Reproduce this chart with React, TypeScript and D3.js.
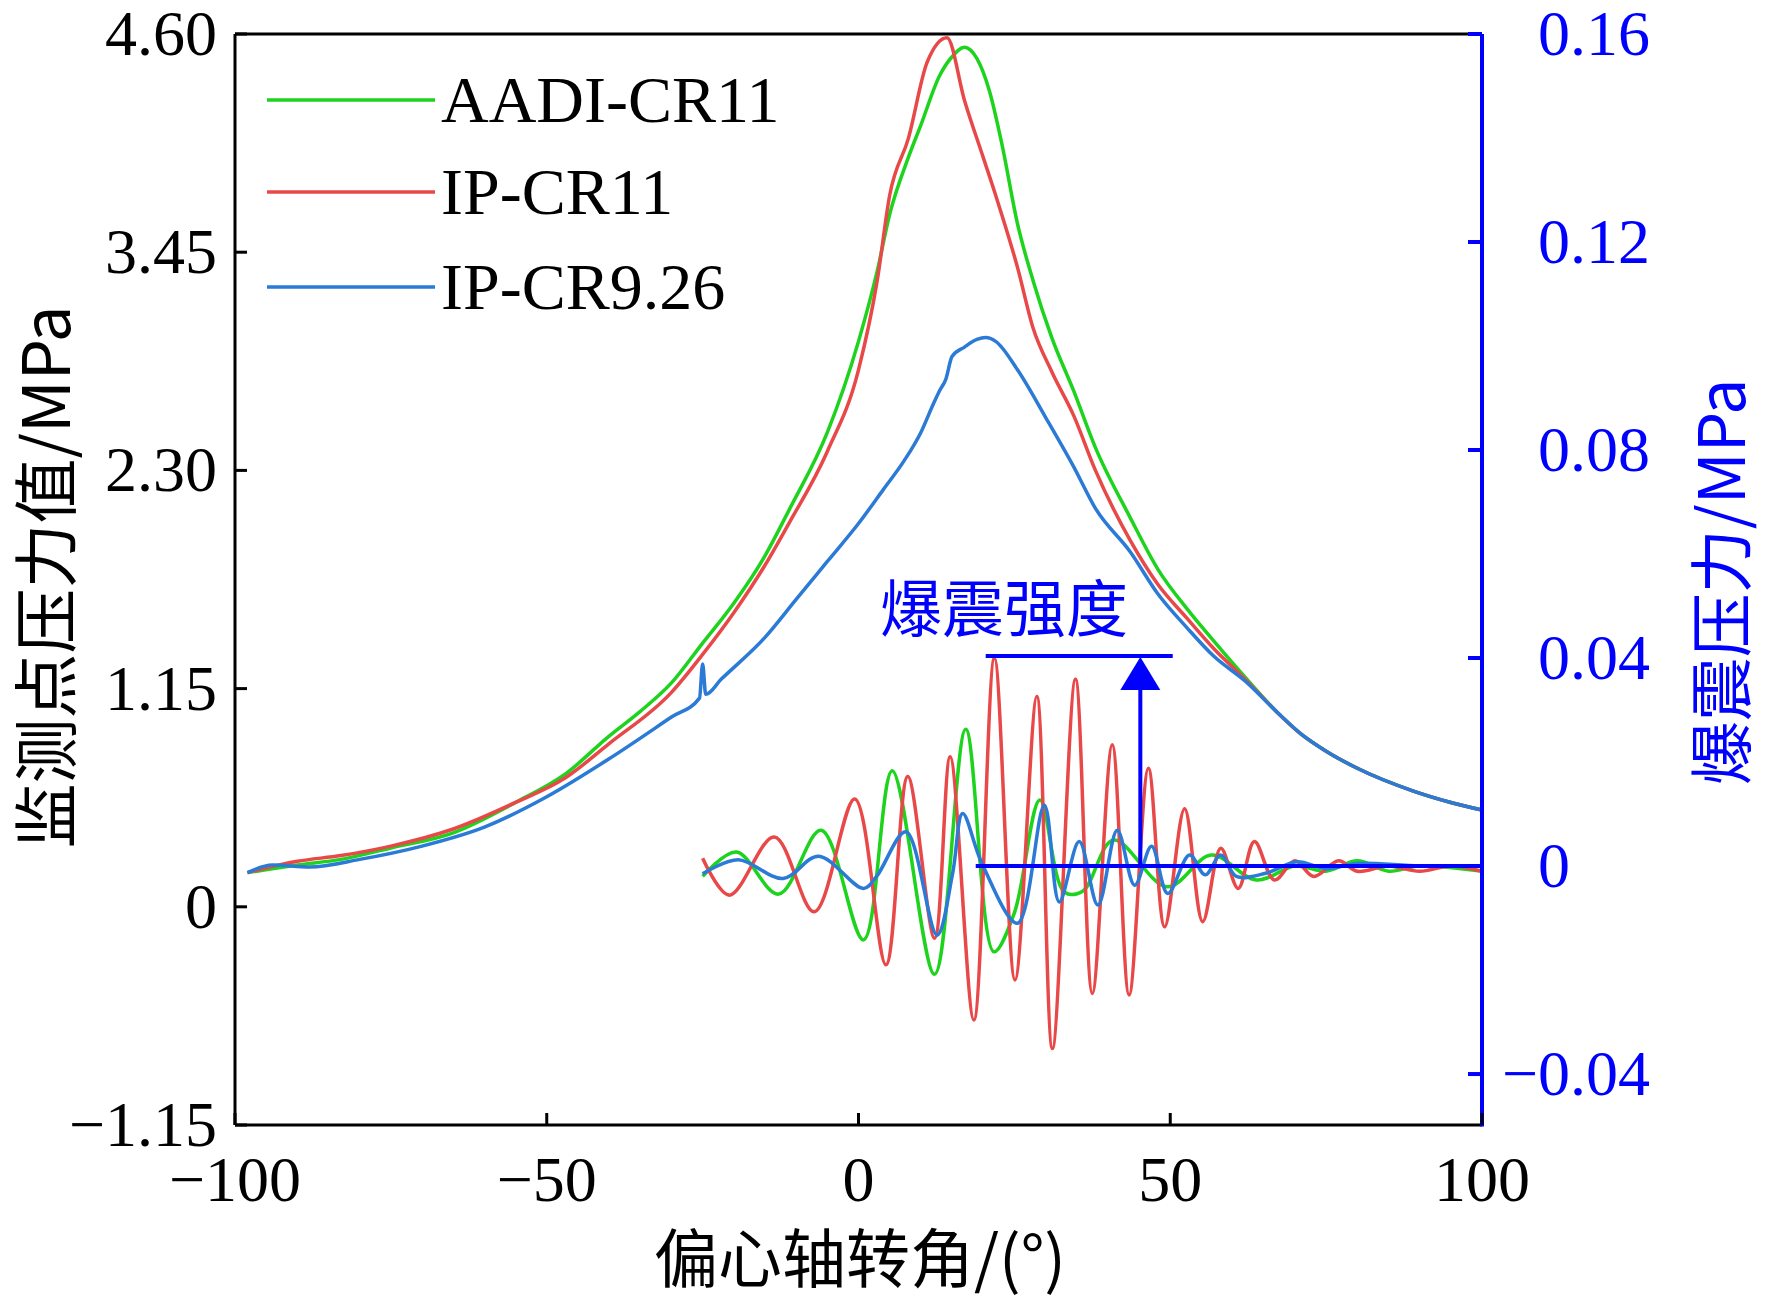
import React from "react";
import * as d3 from "d3";

const W = 1772, H = 1301;
const M = { l: 235, r: 1482, t: 34, b: 1125 };

const xTicks = [-100, -50, 0, 50, 100];
const yLeftTicks = [-1.15, 0, 1.15, 2.3, 3.45, 4.6];
const yRightTicks = [-0.04, 0, 0.04, 0.08, 0.12, 0.16];

const greenMain: [number, number][] = [[-98,0.18],[-90,0.22],[-83,0.25],[-75,0.31],[-65,0.39],[-55,0.55],[-47,0.7],[-40,0.9],[-35,1.03],[-30,1.18],[-25,1.39],[-20,1.6],[-15,1.85],[-11,2.1],[-5,2.5],[0,2.98],[3,3.35],[5,3.65],[8,3.95],[10,4.12],[13,4.38],[15,4.48],[17,4.53],[19,4.47],[21,4.3],[23,4.02],[25.5,3.6],[28,3.3],[31,3.0],[34.5,2.72],[38,2.42],[43.6,2.05],[48,1.78],[52.7,1.57],[57,1.4],[62,1.21],[67,1.03],[71,0.91],[75,0.82],[80,0.73],[89,0.61],[95,0.55],[100,0.51]];
const redMain: [number, number][] = [[-98,0.18],[-90,0.24],[-83,0.27],[-75,0.32],[-65,0.41],[-55,0.55],[-47,0.68],[-40,0.86],[-30,1.13],[-25,1.33],[-20,1.55],[-15,1.8],[-11,2.03],[-5,2.4],[0,2.83],[3,3.3],[5,3.75],[8,4.05],[11,4.45],[14.2,4.58],[17,4.25],[20,3.95],[22,3.75],[25.5,3.37],[28,3.05],[31,2.82],[34.5,2.59],[38,2.3],[43.6,1.93],[48,1.7],[52.7,1.52],[57,1.36],[62,1.2],[67,1.03],[71,0.91],[75,0.82],[80,0.73],[89,0.61],[95,0.55],[100,0.51]];
const blueMain: [number, number][] = [[-98,0.18],[-94,0.22],[-88,0.21],[-80,0.25],[-70,0.32],[-60,0.42],[-50,0.58],[-40,0.78],[-30,1.0],[-25.5,1.1],[-25,1.28],[-24.5,1.12],[-22,1.2],[-15,1.42],[-10,1.62],[-5,1.82],[0,2.02],[4,2.2],[7.3,2.35],[10,2.5],[12,2.65],[13,2.72],[14,2.78],[15,2.9],[17,2.95],[19,2.99],[20.4,3.0],[22,2.98],[25.5,2.83],[30,2.58],[34.5,2.32],[38,2.1],[43.6,1.87],[48,1.65],[52.7,1.47],[57,1.32],[62,1.19],[67,1.03],[71,0.91],[75,0.82],[80,0.73],[89,0.61],[95,0.55],[100,0.51]];

const redOsc: [number, number][] = [[-25,0.0015],[-20.7,-0.0056],[-13.5,0.0056],[-7.1,-0.0088],[-0.6,0.0129],[4.4,-0.019],[7.9,0.0172],[12.2,-0.0139],[14.7,0.021],[18.5,-0.0296],[21.8,0.04],[25.1,-0.0219],[28.6,0.0326],[31.1,-0.0351],[34.8,0.0359],[37.5,-0.0245],[40.7,0.0233],[43.4,-0.0248],[46.5,0.0188],[49.1,-0.0117],[52.3,0.011],[55.2,-0.0107],[58.1,0.0034],[60.9,-0.0043],[63.5,0.0047],[66.7,-0.0027],[70,0.001],[73,-0.002],[77,0.001],[80,-0.001],[85,0],[90,-0.001],[95,0],[100,-0.001]];
const greenOsc: [number, number][] = [[-25,-0.002],[-19.6,0.0027],[-12.8,-0.0054],[-6,0.0069],[0.8,-0.0142],[5.4,0.0183],[12.2,-0.0208],[17.2,0.0263],[21.7,-0.0165],[25,-0.009],[29.1,0.0127],[33,-0.005],[36,-0.0048],[40.9,0.005],[49.5,-0.004],[56.6,0.0021],[63.8,-0.0027],[70,0],[75,-0.001],[80,0.001],[85,-0.001],[90,0],[100,-0.001]];
const blueOsc: [number, number][] = [[-25,-0.0015],[-19.3,0.0012],[-12.1,-0.0024],[-6.4,0.0019],[0.8,-0.0043],[2.9,-0.002],[7.6,0.0066],[12.6,-0.0133],[15.1,-0.0014],[16.7,0.0101],[19.8,0.0005],[25.5,-0.011],[29.8,0.0117],[32.2,-0.0069],[35.4,0.0047],[38.4,-0.0075],[41.5,0.0069],[44.3,-0.0037],[47,0.0038],[49.6,-0.0053],[53.1,0.0021],[55.6,-0.0017],[58.1,0.0021],[60.6,-0.002],[65.3,-0.0014],[70.3,0.0008],[75,-0.0005],[80,0.0005],[90,0],[100,0]];

const GREEN = "#1ed31e", RED = "#e84848", BLUE = "#2a7ad6", AX = "#0000ff";
const serif = "'Liberation Serif', 'Times New Roman', serif";
const cjk = "'Noto Sans CJK SC', sans-serif";
const FS = 64;

export default function App() {
  const x = d3.scaleLinear().domain([-100, 100]).range([M.l, M.r]);
  const yL = d3.scaleLinear().domain([-1.15, 4.6]).range([M.b, M.t]);
  const yR = d3.scaleLinear().domain([-0.0498, 0.16]).range([M.b, M.t]);
  const lineL = d3.line<[number, number]>().x(d => x(d[0])).y(d => yL(d[1])).curve(d3.curveMonotoneX);
  const lineR = d3.line<[number, number]>().x(d => x(d[0])).y(d => yR(d[1])).curve(d3.curveCatmullRom.alpha(0.5));
  const sw = 3.5;
  const legend = [["AADI-CR11", GREEN, 100], ["IP-CR11", RED, 192], ["IP-CR9.26", BLUE, 287]] as const;
  const ann = yR(0.0404);
  return (
    <svg width={W} height={H} style={{ position: "absolute", left: 0, top: 0, background: "#fff" }}>
      <rect width={W} height={H} fill="#fff" />
      <path d={lineR(greenOsc)!} fill="none" stroke={GREEN} strokeWidth={sw} />
      <path d={lineR(redOsc)!} fill="none" stroke={RED} strokeWidth={sw} />
      <path d={lineR(blueOsc)!} fill="none" stroke={BLUE} strokeWidth={sw} />
      <path d={lineL(greenMain)!} fill="none" stroke={GREEN} strokeWidth={sw} />
      <path d={lineL(redMain)!} fill="none" stroke={RED} strokeWidth={sw} />
      <path d={lineL(blueMain)!} fill="none" stroke={BLUE} strokeWidth={sw} />
      <line x1={x(18.8)} x2={M.r} y1={yR(0)} y2={yR(0)} stroke={AX} strokeWidth={4} />
      <line x1={x(20.4)} x2={x(50.4)} y1={ann} y2={ann} stroke={AX} strokeWidth={4} />
      <line x1={x(45.2)} x2={x(45.2)} y1={yR(0)} y2={ann + 30} stroke={AX} strokeWidth={4} />
      <polygon points={`${x(45.2)},${ann + 1} ${x(45.2) - 20},${ann + 34} ${x(45.2) + 20},${ann + 34}`} fill={AX} />
      <text x={1004} y={ann - 24} fill={AX} fontFamily={cjk} fontSize={62} textAnchor="middle">爆震强度</text>
      <line x1={M.l} x2={M.r} y1={M.t} y2={M.t} stroke="#000" strokeWidth={3} />
      <line x1={M.l} x2={M.r} y1={M.b} y2={M.b} stroke="#000" strokeWidth={3} />
      <line x1={M.l} x2={M.l} y1={M.t} y2={M.b} stroke="#000" strokeWidth={3} />
      <line x1={M.r} x2={M.r} y1={M.t} y2={M.b + 1.5} stroke={AX} strokeWidth={4} />
      {xTicks.map(t => (
        <g key={"x" + t}>
          <line x1={x(t)} x2={x(t)} y1={M.b} y2={M.b - 12} stroke="#000" strokeWidth={3} />
          <text x={x(t)} y={M.b + 76} fontFamily={serif} fontSize={FS} textAnchor="middle">{t < 0 ? "\u2212" + Math.abs(t) : t}</text>
        </g>
      ))}
      {yLeftTicks.map(t => (
        <g key={"l" + t}>
          <line x1={M.l} x2={M.l + 12} y1={yL(t)} y2={yL(t)} stroke="#000" strokeWidth={3} />
          <text x={M.l - 18} y={yL(t) + 21} fontFamily={serif} fontSize={FS} textAnchor="end">{t === 0 ? "0" : (t < 0 ? "\u2212" : "") + Math.abs(t).toFixed(2)}</text>
        </g>
      ))}
      {yRightTicks.map(t => (
        <g key={"r" + t}>
          <line x1={M.r} x2={M.r - 14} y1={yR(t)} y2={yR(t)} stroke={AX} strokeWidth={4} />
          <text x={M.r + 56 - (t < 0 ? 36 : 0)} y={yR(t) + 21} fill={AX} fontFamily={serif} fontSize={FS} textAnchor="start">{t === 0 ? "0" : (t < 0 ? "\u2212" : "") + Math.abs(t).toFixed(2)}</text>
        </g>
      ))}
      <text x={860} y={1282} fontFamily={cjk} fontSize={64} textAnchor="middle">偏心轴转角/(°)</text>
      <text transform={`translate(70,577) rotate(-90)`} fontFamily={cjk} fontSize={65} textAnchor="middle">监测点压力值/MPa</text>
      <text transform={`translate(1745,582) rotate(-90)`} fill={AX} fontFamily={cjk} fontSize={64} textAnchor="middle">爆震压力/MPa</text>
      {legend.map(([name, c, y]) => (
        <g key={name}>
          <line x1={267} x2={435} y1={y} y2={y} stroke={c} strokeWidth={sw} />
          <text x={441} y={y + 22} fontFamily={serif} fontSize={66}>{name}</text>
        </g>
      ))}
    </svg>
  );
}
